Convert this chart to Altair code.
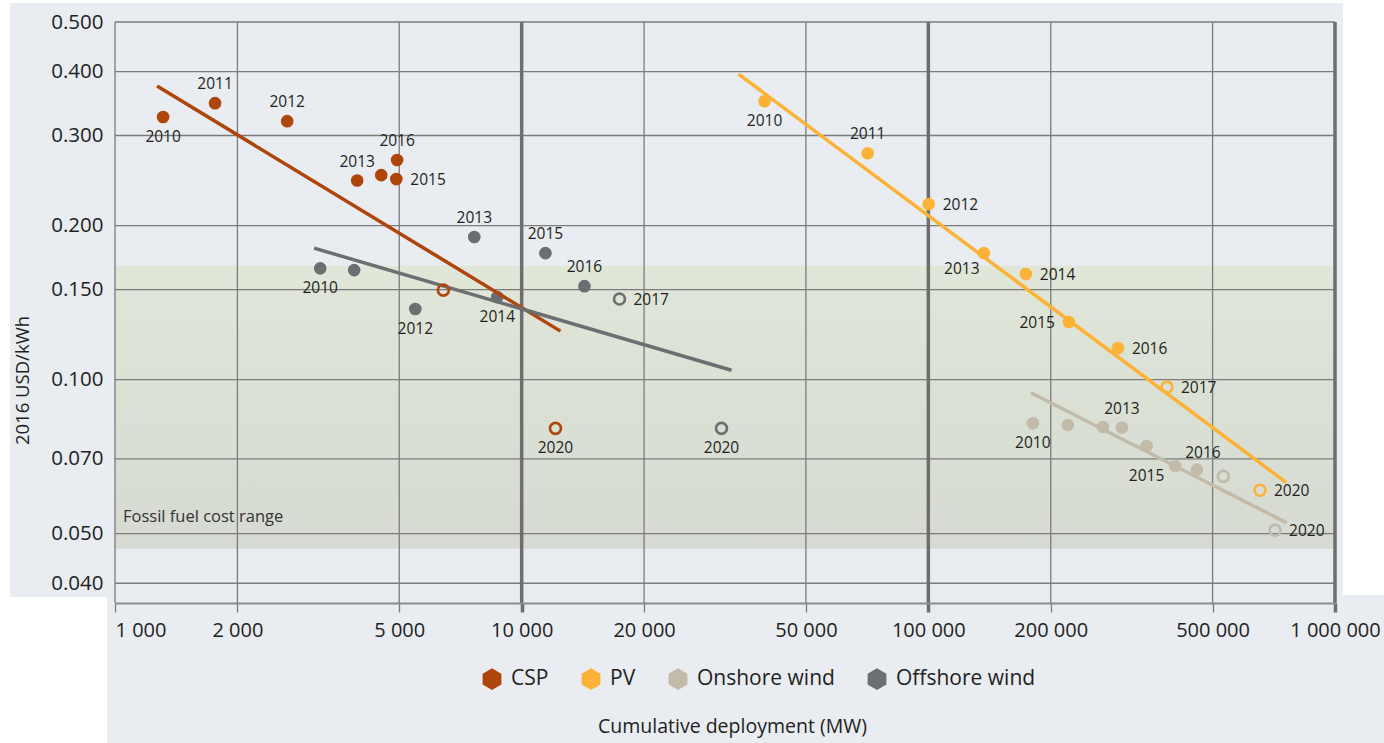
import altair as alt
import pandas as pd

# ---- series -------------------------------------------------------------
techs = ["CSP", "PV", "Onshore wind", "Offshore wind"]
tech_colors = ["#ae460c", "#fbb236", "#c3bba9", "#6d6e71"]

years = [2010, 2011, 2012, 2013, 2014, 2015, 2016, 2017, 2020]
projection_years = [2017, 2020]

csp_mw = [1313, 1762, 2651, 3940, 4515, 4917, 4940, 6418, 12110]
csp_cost = [0.326, 0.347, 0.320, 0.245, 0.251, 0.2466, 0.2687, 0.1496, 0.0803]

pv_mw = [39560, 70930, 100200, 136900, 173700, 221600, 292500, 386200, 654000]
pv_cost = [0.350, 0.277, 0.2203, 0.1767, 0.1608, 0.1296, 0.1153, 0.0967, 0.0608]

onshore_mw = [180700, 220300, 268700, 299200, 344200, 404800, 457700, 531400, 712300]
onshore_cost = [0.0822, 0.0815, 0.0808, 0.0806, 0.0742, 0.0678, 0.0667, 0.0647, 0.0508]

offshore_mw = [3196, 3874, 5476, 7647, 8712, 11440, 14270, 17400, 31000]
offshore_cost = [0.165, 0.1637, 0.1374, 0.190, 0.145, 0.1767, 0.1523, 0.1437, 0.0803]

# learning-curve fits (start and end of each line)
csp_fit_mw, csp_fit_cost = [1269, 12455], [0.3748, 0.1244]
pv_fit_mw, pv_fit_cost = [34150, 757800], [0.3955, 0.0630]
onshore_fit_mw, onshore_fit_cost = [178700, 761000], [0.0943, 0.0525]
offshore_fit_mw, offshore_fit_cost = [3088, 32810], [0.1807, 0.1043]

# which years carry a label, and where the label sits
csp_labels = {2010: "below", 2011: "above", 2012: "above", 2013: "above",
              2015: "right", 2016: "above", 2020: "below"}
pv_labels = {2010: "below", 2011: "above", 2012: "right", 2013: "below_left",
             2014: "right", 2015: "left", 2016: "right", 2017: "right", 2020: "right"}
onshore_labels = {2010: "below", 2013: "above", 2015: "left_below",
                  2016: "above_right", 2020: "right"}
offshore_labels = {2010: "below", 2012: "below", 2013: "above", 2014: "below",
                   2015: "above", 2016: "above", 2017: "right", 2020: "below"}

fossil_low, fossil_high = 0.0467, 0.167

x_min, x_max = 1000, 1000000
y_min, y_max = 0.0366, 0.5
x_ticks = [1000, 2000, 5000, 10000, 20000, 50000, 100000, 200000, 500000, 1000000]
x_decades = [10000, 100000, 1000000]
y_ticks = [0.04, 0.05, 0.07, 0.1, 0.15, 0.2, 0.3, 0.4, 0.5]

# ---- tables -------------------------------------------------------------
series = {
    "CSP": (csp_mw, csp_cost, csp_fit_mw, csp_fit_cost, csp_labels),
    "PV": (pv_mw, pv_cost, pv_fit_mw, pv_fit_cost, pv_labels),
    "Onshore wind": (onshore_mw, onshore_cost, onshore_fit_mw, onshore_fit_cost, onshore_labels),
    "Offshore wind": (offshore_mw, offshore_cost, offshore_fit_mw, offshore_fit_cost, offshore_labels),
}

pts, fits, labs = [], [], []
for tech, (mw, cost, fmw, fcost, lab) in series.items():
    for yr, m, c in zip(years, mw, cost):
        pts.append({"tech": tech, "year": yr, "mw": m, "cost": c,
                    "projected": yr in projection_years})
        if yr in lab:
            labs.append({"tech": tech, "label": str(yr), "mw": m, "cost": c, "place": lab[yr]})
    for i, (m, c) in enumerate(zip(fmw, fcost)):
        fits.append({"tech": tech, "order": i, "mw": m, "cost": c})

pts = pd.DataFrame(pts)
fits = pd.DataFrame(fits)
labs = pd.DataFrame(labs)

FONT = "Open Sans"
INK = "#231f20"
GRID = "#7b7b7b"
DECADE = "#6e6e6e"
PANEL = "#e9ecf1"

decade_test = " || ".join(f"datum.value == {v}" for v in x_decades)

x_scale = alt.Scale(type="log", domain=[x_min, x_max], nice=False)
y_scale = alt.Scale(type="log", domain=[y_min, y_max], nice=False)

x_axis = alt.Axis(
    title="Cumulative deployment (MW)", values=x_ticks, grid=False,
    labelExpr="replace(format(datum.value, ','), regexp(',', 'g'), ' ')",
    labelAlign={"condition": {"test": "datum.value == 1000", "value": "left"}, "value": "center"},
    labelBaseline="alphabetic", labelPadding=24, labelOverlap=False, labelFlush=False,
    labelFont=FONT, labelFontSize=20, labelColor=INK,
    domainColor="#8c8c8c", domainWidth=2,
    tickSize=9, tickColor={"condition": {"test": decade_test, "value": DECADE}, "value": GRID},
    tickWidth={"condition": {"test": decade_test, "value": 3.5}, "value": 1.3},
    titleFont=FONT, titleFontSize=19.5, titleFontWeight="normal", titleColor=INK,
    titleX=617, titleY=129, titleAlign="center", titleBaseline="alphabetic",
    zindex=1,
)
y_axis = alt.Axis(
    title="2016 USD/kWh", values=y_ticks, format=".3f", grid=False,
    domain=False, ticks=False, labelPadding=12, labelOverlap=False,
    labelFont=FONT, labelFontSize=20.5, labelColor=INK,
    titleFont=FONT, titleFontSize=18.5, titleFontWeight="normal", titleColor=INK,
    titleX=-87, titleY=358, titleAngle=270, titleAlign="center", titleBaseline="alphabetic",
    zindex=1,
)


def X(field="mw"):
    return alt.X(f"{field}:Q", scale=x_scale, axis=x_axis)


def Y(field="cost"):
    return alt.Y(f"{field}:Q", scale=y_scale, axis=y_axis)


hexagon = "M0,-1L0.866,-0.5L0.866,0.5L0,1L-0.866,0.5L-0.866,-0.5Z"
color_scale = alt.Scale(domain=techs, range=tech_colors)
legend = alt.Legend(
    title=None, orient="none", legendX=366, legendY=646, direction="horizontal",
    symbolType=hexagon, symbolSize=470, symbolStrokeWidth=0,
    labelFont=FONT, labelFontSize=21, labelColor=INK, labelOffset=8,
    columnPadding=31,
)

one = pd.DataFrame({"k": [0]})

# page panels behind the chart
panel_top = alt.Chart(one).mark_rect(color=PANEL).encode(
    x=alt.value(-105), x2=alt.value(1228), y=alt.value(-19), y2=alt.value(575))
panel_bottom = alt.Chart(one).mark_rect(color=PANEL).encode(
    x=alt.value(-8), x2=alt.value(1269), y=alt.value(573), y2=alt.value(721))

# fossil fuel cost band
band_df = pd.DataFrame({"mw": [x_min], "mw2": [x_max], "cost": [fossil_high], "cost2": [fossil_low]})
band = alt.Chart(band_df).mark_rect(
    fill=alt.LinearGradient(gradient="linear", x1=0, x2=0, y1=0, y2=1,
                            stops=[alt.GradientStop(color="#e0e6d8", offset=0),
                                   alt.GradientStop(color="#d6dad2", offset=1)])
).encode(x=X(), x2="mw2:Q", y=Y(), y2="cost2:Q")
band_text = alt.Chart(pd.DataFrame({"mw": [x_min], "cost": [fossil_low]})).mark_text(
    text="Fossil fuel cost range", align="left", baseline="middle", dx=8, dy=-32,
    font=FONT, fontSize=16.5, color="#333333"
).encode(x=X(), y=Y())

# grid
vgrid = alt.Chart(pd.DataFrame({"mw": [v for v in x_ticks if v not in x_decades]})).mark_rule(
    color=GRID, strokeWidth=1.3).encode(x=X())
vdecade = alt.Chart(pd.DataFrame({"mw": x_decades})).mark_rule(
    color=DECADE, strokeWidth=3.5).encode(x=X())
hgrid = alt.Chart(pd.DataFrame({"cost": y_ticks})).mark_rule(
    color=GRID, strokeWidth=1.3).encode(y=Y())

# fitted learning curves (stroke channel, no legend of its own)
lines = alt.Chart(fits).mark_line(strokeWidth=3.5).encode(
    x=X(), y=Y(), detail="tech:N", order="order:Q",
    stroke=alt.Stroke("tech:N", scale=color_scale, legend=None))

# observed values (filled, carry the legend) and projections (open rings)
dots = alt.Chart(pts).transform_filter("!datum.projected").mark_circle(size=160, opacity=1).encode(
    x=X(), y=Y(), color=alt.Color("tech:N", scale=color_scale, legend=legend))
rings = alt.Chart(pts).transform_filter("datum.projected").mark_point(
    size=120, strokeWidth=2.6, filled=False, opacity=1).encode(
    x=X(), y=Y(), stroke=alt.Stroke("tech:N", scale=color_scale, legend=None))

# year labels
placements = {
    "above": ("center", 0, -19),
    "below": ("center", 0, 20),
    "right": ("left", 14, 1),
    "left": ("right", -14, 1),
    "below_left": ("center", -22, 16),
    "left_below": ("right", -11, 10),
    "above_right": ("center", 6, -17),
}
label_layers = []
for place, (align, dx, dy) in placements.items():
    label_layers.append(
        alt.Chart(labs).transform_filter(alt.datum.place == place).mark_text(
            align=align, baseline="middle", dx=dx, dy=dy,
            font=FONT, fontSize=15.5, color=INK
        ).encode(x=X(), y=Y(), text="label:N")
    )

chart = alt.layer(
    panel_top, panel_bottom, band, band_text, vgrid, hgrid, vdecade,
    dots, lines, rings, *label_layers
).properties(
    width=1220, height=581,
    autosize=alt.AutoSizeParams(type="none"),
    padding={"left": 115, "top": 22, "right": 49, "bottom": 140},
    background="#ffffff",
).configure_view(stroke=None)

chart.save("out.html", embed_options={"renderer": "svg", "actions": False})
